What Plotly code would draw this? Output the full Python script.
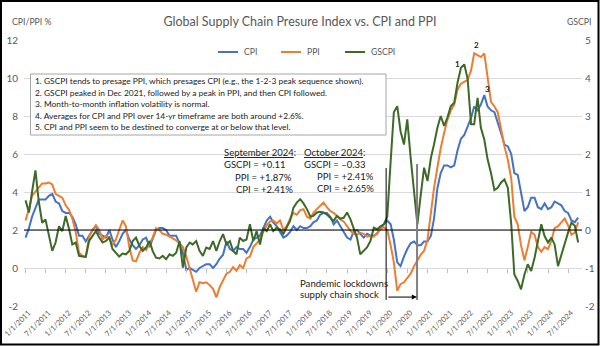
import pandas as pd
import plotly.graph_objects as go

# ---------------- data ----------------
dates = pd.date_range("2011-01-01", periods=166, freq="MS")

cpi = [
    1.6, 2.1, 2.7, 3.2, 3.6, 3.6, 3.6, 3.8, 3.9, 3.5, 3.4, 3.0,
    2.9, 2.9, 2.7, 2.3, 1.7, 1.7, 1.4, 1.7, 2.0, 2.2, 1.8, 1.7,
    1.6, 2.0, 1.5, 1.1, 1.4, 1.8, 2.0, 1.5, 1.2, 1.0, 1.2, 1.5,
    1.6, 1.1, 1.5, 2.0, 2.1, 2.1, 2.0, 1.7, 1.7, 1.7, 1.3, 0.8,
    -0.1, 0.0, -0.1, -0.2, 0.0, 0.1, 0.2, 0.2, 0.0, 0.2, 0.5, 0.7,
    1.4, 1.0, 0.9, 1.1, 1.0, 1.0, 0.8, 1.1, 1.5, 1.6, 1.7, 2.1,
    2.5, 2.7, 2.4, 2.2, 1.9, 1.6, 1.7, 1.9, 2.2, 2.0, 2.2, 2.1,
    2.1, 2.2, 2.4, 2.5, 2.8, 2.9, 2.9, 2.7, 2.3, 2.5, 2.2, 1.9,
    1.6, 1.5, 1.9, 2.0, 1.8, 1.6, 1.8, 1.7, 1.7, 1.8, 2.1, 2.3,
    2.5, 2.3, 1.5, 0.3, 0.1, 0.6, 1.0, 1.3, 1.4, 1.2, 1.2, 1.4,
    1.4, 1.7, 2.6, 4.2, 5.0, 5.4, 5.4, 5.3, 5.4, 6.2, 6.8, 7.0,
    7.5, 7.9, 8.5, 8.3, 8.6, 9.1, 8.5, 8.3, 8.2, 7.7, 7.1, 6.5,
    6.4, 6.0, 5.0, 4.9, 4.0, 3.0, 3.2, 3.7, 3.7, 3.2, 3.1, 3.4,
    3.1, 3.2, 3.5, 3.4, 3.3, 3.0, 2.9, 2.5, 2.41, 2.65,
]

ppi = [
    2.5, 3.1, 3.8, 4.0, 4.2, 4.45, 4.45, 4.5, 4.4, 3.9, 3.8, 3.7,
    3.3, 3.05, 2.6, 1.9, 0.8, 0.65, 0.6, 1.65, 2.0, 2.25, 2.0, 1.5,
    1.7, 1.6, 1.2, 1.5, 2.0, 2.5, 2.2, 1.1, 0.4, 0.35, 0.8, 1.1,
    0.95, 1.3, 1.6, 2.1, 2.0, 1.8, 1.75, 1.65, 1.55, 1.45, 1.3, 1.1,
    0.6, -0.1, -0.6, -1.25, -0.75, -0.8, -0.75, -0.9, -1.1, -1.55, -1.0, -0.65,
    -0.3, -0.2, 0.05, -0.15, 0.15, 0.0, 0.5, 0.6, 1.1, 1.3, 1.5, 1.9,
    2.25, 2.45, 2.5, 2.35, 2.5, 2.0, 2.2, 2.6, 2.9, 2.8, 3.05, 3.1,
    2.7, 2.6, 2.9, 3.1, 3.3, 3.45, 3.2, 3.0, 2.9, 2.7, 2.55, 2.45,
    2.2, 1.95, 1.8, 1.75, 1.85, 1.8, 1.65, 1.7, 1.65, 1.85, 2.05, 2.15,
    2.0, 1.2, 0.3, -1.2, -0.85, -0.75, -0.55, -0.3, 0.1, 0.4, 0.7, 0.9,
    1.5, 2.9, 4.2, 5.3, 6.3, 7.1, 7.8, 8.3, 8.6, 9.4, 9.7, 9.8,
    9.9, 10.4, 11.3, 11.2, 11.1, 11.3, 9.9, 8.75, 8.5, 8.2, 7.3, 6.4,
    5.7, 4.7, 2.7, 2.3, 1.2, 0.4, 1.1, 1.9, 1.75, 1.1, 0.85, 1.1,
    1.0, 1.45, 2.1, 2.2, 2.4, 2.6, 2.25, 1.75, 1.87, 2.41,
]

gscpi = [
    0.78, 0.46, 1.0, 1.57, 0.76, 0.19, 0.28, -0.1, -0.55, -0.33, 0.1, -0.03,
    0.37, 0.02, -0.38, -0.33, -0.68, -0.7, -0.71, -0.29, -0.16, -0.03, -0.2, -0.33,
    -0.29, -0.2, -0.5, -0.6, -0.7, -0.62, -0.64, -0.55, -0.29, -0.2, -0.42, -0.55,
    -0.46, -0.29, -0.55, -0.73, -0.75, -0.68, -0.77, -0.64, -0.68, -0.6, -0.29, -0.99,
    -0.46, -0.33, -0.38, -0.29, -0.55, -0.68, -0.46, -0.5, -0.29, -0.55, -0.29, -0.11,
    -0.38, -0.29, -0.55, -0.64, -0.2, -0.29, -0.25, 0.15, -0.29, -0.03, -0.38, 0.06,
    -0.03, 0.15, -0.03, 0.06, 0.02, -0.1, 0.06, 0.24, 0.59, 0.72, 0.81, 0.7,
    0.55, 0.35, 0.37, 0.46, 0.48, 0.46, 0.41, 0.32, 0.24, 0.37, 0.3, 0.32,
    0.46, 0.28, 0.06, -0.2, -0.64, -0.55, -0.46, -0.29, 0.06, 0.02, 0.1, 0.15,
    0.35, 1.8, 3.1, 3.26, 2.6, 2.25, 2.91, 1.9, 1.03, 0.15, 0.94, 1.64,
    1.29, 1.9, 2.25, 2.69, 3.0, 2.74, 2.96, 3.26, 3.35, 3.88, 4.27, 4.36,
    3.97, 2.78, 2.78, 3.48, 2.69, 2.38, 1.86, 1.5, 1.05, 1.11, 1.25, 1.33,
    1.11, 0.15, -1.17, -1.34, -1.56, -1.17, -0.9, -1.08, -0.73, -0.29, 0.15, -0.16,
    -0.33, -0.2, -0.38, -0.95, -0.64, -0.38, -0.07, 0.19, 0.11, -0.33,
]

tick_dates = [f"{y}-{m:02d}-01" for y in range(2011, 2025) for m in (1, 7)]
tick_labels = [
    "1/1/2011", "7/1/2011", "1/1/2012", "7/1/2012", "1/1/2013", "7/1/2013",
    "1/1/2014", "7/1/2014", "1/1/2015", "7/1/2015", "1/1/2016", "7/1/2016",
    "1/1/2017", "7/1/2017", "1/1/2018", "7/1/2018", "1/1/2019", "7/1/2019",
    "1/1/2020", "7/1/2020", "1/1/2021", "7/1/2021", "1/1/2022", "7/1/2022",
    "1/1/2023", "7/1/2023", "1/1/2024", "7/1/2024",
]
left_ticks = [-2, 0, 2, 4, 6, 8, 10, 12]
left_labels = ["-2", "0", "2", "4", "6", "8", "10", "12"]
right_ticks = [-2, -1, 0, 1, 2, 3, 4, 5]
right_labels = ["-2", "-1", "0", "1", "2", "3", "4", "5"]

box_lines = [
    "1. GSCPI tends to presage PPI, which presages CPI (e.g., the 1-2-3 peak sequence shown).",
    "2. GSCPI peaked in Dec 2021, followed by a peak in PPI, and then CPI followed.",
    "3. Month-to-month inflation volatility is normal.",
    "4. Averages for CPI and PPI over 14-yr timeframe are both around +2.6%.",
    "5. CPI and PPI seem to be destined to converge at or below that level.",
]

# ---------------- geometry helpers ----------------
W, H = 600, 346
L, R, T, B = 24, 18, 40, 40
PW = W - L - R
PH = H - T - B


def px(x):
    return (x - L) / PW


def py(y):
    return (H - B - y) / PH


FONT = "Lato, 'Open Sans', sans-serif"
GRAY = "#595959"
C_CPI, C_PPI, C_GS = "#4472C4", "#ED7D31", "#3d6a26"

fig = go.Figure()
fig.add_trace(go.Scatter(x=dates, y=cpi, name="CPI", mode="lines",
                         line=dict(color=C_CPI, width=2), showlegend=False))
fig.add_trace(go.Scatter(x=dates, y=ppi, name="PPI", mode="lines",
                         line=dict(color=C_PPI, width=2), showlegend=False))
fig.add_trace(go.Scatter(x=dates, y=gscpi, name="GSCPI", mode="lines", yaxis="y2",
                         line=dict(color=C_GS, width=2), showlegend=False))
# helper trace so the tick-mark axis at the zero line is drawn
fig.add_trace(go.Scatter(x=[dates[0]], y=[None], xaxis="x2", yaxis="y",
                         mode="lines", showlegend=False, hoverinfo="skip"))

xrange = ["2010-12-18", "2024-11-05"]

shapes = []
# legend samples
for x0, col in [(218, C_CPI), (281, C_PPI), (345, C_GS)]:
    shapes.append(dict(type="line", xref="paper", yref="paper",
                       x0=px(x0), x1=px(x0 + 20), y0=py(52), y1=py(52),
                       line=dict(color=col, width=2)))
# text box
shapes.append(dict(type="rect", xref="paper", yref="paper",
                   x0=px(30.5), x1=px(386), y0=py(135), y1=py(74),
                   fillcolor="white", line=dict(color="#a6a6a6", width=1), layer="above"))
# horizontal black line at CPI 2 / GSCPI 0
shapes.append(dict(type="line", xref="paper", yref="y", x0=0, x1=1, y0=2, y1=2,
                   line=dict(color="black", width=1.2), layer="above"))
# pandemic markers
shapes.append(dict(type="line", xref="x", yref="y", x0="2019-12-22", x1="2019-12-22",
                   y0=-1.68, y1=5.26, line=dict(color="black", width=1), layer="above"))
shapes.append(dict(type="line", xref="x", yref="y", x0="2020-09-28", x1="2020-09-28",
                   y0=-1.68, y1=5.47, line=dict(color="#7f7f7f", width=2), layer="above"))
# outer frame
shapes.append(dict(type="rect", xref="paper", yref="paper",
                   x0=px(1), x1=px(598.5), y0=py(344.5), y1=py(1),
                   line=dict(color="black", width=2), layer="above"))

ann = []


def text(x, y, s, size, color="#1a1a1a", anchor="left"):
    ann.append(dict(xref="paper", yref="paper", x=px(x), y=py(y), text=s,
                    showarrow=False, xanchor=anchor, yanchor="middle",
                    font=dict(family=FONT, size=size, color=color)))


text(10, 22, "CPI/PPI %", 8.7, GRAY)
text(565, 22, "GSCPI", 8.7, GRAY)
text(242, 52, "CPI", 8.6, GRAY)
text(305, 52, "PPI", 8.6, GRAY)
text(369, 52, "GSCPI", 8.6, GRAY)

for i, s in enumerate(box_lines):
    text(33, 81 + i * 11.6, s, 8.4)

text(222, 152, "<u>September 2024</u>:", 9.5)
text(222, 164.5, "GSCPI = +0.11", 9.5)
text(233, 177, "PPI = +1.87%", 9.5)
text(234, 189, "CPI = +2.41%", 9.5)
text(302, 152, "<u>October 2024</u>:", 9.5)
text(302, 164.5, "GSCPI = \u20130.33", 9.5)
text(315, 176.5, "PPI = +2.41%", 9.5)
text(315, 188.5, "CPI = +2.65%", 9.5)

text(298, 283, "Pandemic lockdowns", 9.6)
text(298, 294.5, "supply chain shock", 9.6)

for d, v, s in [("2021-10-05", 10.72, "1"), ("2022-03-25", 11.74, "2"), ("2022-06-28", 9.42, "3")]:
    ann.append(dict(xref="x", yref="y", x=d, y=v, text=f"<b>{s}</b>", showarrow=False,
                    font=dict(family=FONT, size=8, color="#1a1a1a")))

# arrow between the two pandemic markers
ann.append(dict(xref="x", yref="y", x="2020-09-26", y=-1.53, text="", showarrow=True,
                ax=-30, ay=0, arrowhead=2, arrowsize=1, arrowwidth=1, arrowcolor="black"))

fig.update_layout(
    width=W, height=H,
    margin=dict(l=L, r=R, t=T, b=B),
    paper_bgcolor="white", plot_bgcolor="white",
    title=dict(text="Global Supply Chain Presure Index vs. CPI and PPI",
               x=0.5, xanchor="center", y=1 - 22 / H, yanchor="middle",
               font=dict(family=FONT, size=12.5, color=GRAY)),
    showlegend=False,
    xaxis=dict(type="date", range=xrange, tickvals=tick_dates, ticktext=tick_labels,
               tickangle=-45, tickfont=dict(family=FONT, size=7.6, color=GRAY),
               showgrid=False, zeroline=False, showline=False, ticks="",
               ticklabelshift=3, ticklabeloverflow="allow", automargin=False),
    xaxis2=dict(type="date", range=xrange, overlaying="x", anchor="free",
                position=2 / 14, tickvals=tick_dates, showticklabels=False,
                ticks="outside", ticklen=4, tickcolor="#bfbfbf", tickwidth=1,
                showgrid=False, zeroline=False, showline=False),
    yaxis=dict(range=[-2, 12], tickvals=left_ticks, ticktext=left_labels,
               showgrid=True, gridcolor="#d9d9d9", gridwidth=1, zeroline=False,
               tickfont=dict(family=FONT, size=10, color=GRAY),
               ticklabelstandoff=5, automargin=False),
    yaxis2=dict(range=[-2, 5], tickvals=right_ticks, ticktext=right_labels,
                overlaying="y", side="right", showgrid=False, zeroline=False,
                tickfont=dict(family=FONT, size=10, color=GRAY),
                ticklabelstandoff=2, automargin=False),
    shapes=shapes,
    annotations=ann,
)

fig.write_html("out.html")
